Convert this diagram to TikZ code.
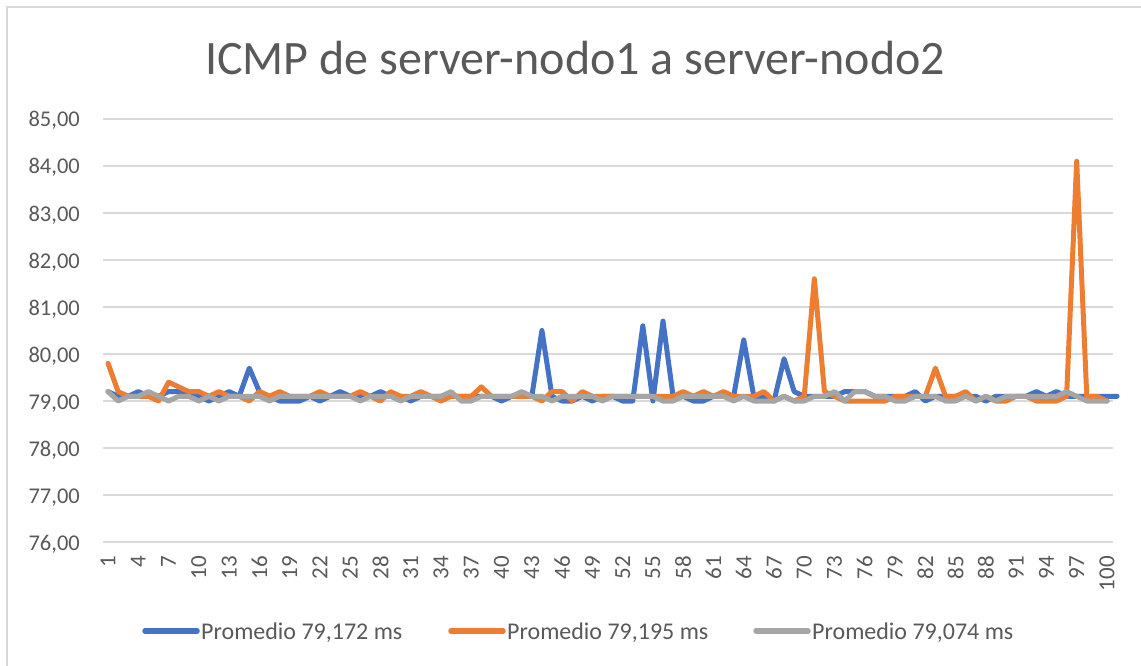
\documentclass[tikz,border=0pt]{standalone}
\usepackage{fontspec}
\setmainfont{Carlito}
\definecolor{txtgray}{HTML}{595959}
\definecolor{gridgray}{HTML}{D9D9D9}
\definecolor{serblue}{HTML}{4472C4}
\definecolor{serorange}{HTML}{ED7D31}
\definecolor{sergray}{HTML}{A5A5A5}

% Series values for points 2..100 (point 1 is given separately)
\def\blueRest{79.1,79.1,79.2,79.1,79.1,79.2,79.2,79.2,79.1,79.0,79.1,79.2,79.1,79.7,79.2,79.1,79.0,79.0,79.0,
79.1,79.0,79.1,79.2,79.1,79.1,79.1,79.2,79.1,79.1,79.0,79.1,79.1,79.1,79.1,79.1,79.1,79.1,79.1,79.0,
79.1,79.1,79.1,80.5,79.1,79.0,79.0,79.1,79.0,79.1,79.1,79.0,79.0,80.6,79.0,80.7,79.1,79.1,79.0,79.0,
79.1,79.1,79.1,80.3,79.1,79.1,79.0,79.9,79.2,79.1,79.1,79.1,79.1,79.2,79.2,79.2,79.1,79.1,79.1,79.1,79.2,
79.0,79.1,79.1,79.1,79.1,79.1,79.0,79.1,79.1,79.1,79.1,79.2,79.1,79.2,79.1,79.1,79.1,79.1,79.1,79.1}
\def\orangeRest{79.2,79.1,79.1,79.1,79.0,79.4,79.3,79.2,79.2,79.1,79.2,79.1,79.1,79.0,79.2,79.1,79.2,79.1,79.1,
79.1,79.2,79.1,79.1,79.1,79.2,79.1,79.0,79.2,79.1,79.1,79.2,79.1,79.0,79.1,79.1,79.1,79.3,79.1,79.1,
79.1,79.1,79.1,79.0,79.2,79.2,79.0,79.2,79.1,79.1,79.1,79.1,79.1,79.1,79.1,79.1,79.1,79.2,79.1,79.2,
79.1,79.2,79.1,79.1,79.1,79.2,79.0,79.1,79.0,79.1,81.6,79.2,79.1,79.0,79.0,79.0,79.0,79.0,79.1,79.1,
79.1,79.1,79.7,79.1,79.1,79.2,79.0,79.1,79.0,79.0,79.1,79.1,79.0,79.0,79.0,79.1,84.1,79.1,79.1,79.0}
\def\grayRest{79.0,79.1,79.1,79.2,79.1,79.0,79.1,79.1,79.0,79.1,79.0,79.1,79.1,79.1,79.1,79.0,79.1,79.1,79.1,
79.1,79.1,79.1,79.1,79.1,79.0,79.1,79.1,79.1,79.0,79.1,79.1,79.1,79.1,79.2,79.0,79.0,79.1,79.1,79.1,
79.1,79.2,79.1,79.1,79.0,79.1,79.1,79.1,79.1,79.0,79.1,79.1,79.1,79.1,79.1,79.0,79.0,79.1,79.1,79.1,
79.1,79.1,79.0,79.1,79.0,79.0,79.0,79.1,79.0,79.0,79.1,79.1,79.2,79.0,79.2,79.2,79.1,79.1,79.0,79.0,
79.1,79.1,79.1,79.0,79.0,79.1,79.0,79.1,79.0,79.1,79.1,79.1,79.1,79.1,79.1,79.2,79.1,79.0,79.0,79.0}

\tikzset{
  axislabel/.style={font=\fontsize{22.5}{27}\selectfont, text=txtgray, inner sep=0pt},
  ticklabel/.style={font=\fontsize{23}{28}\selectfont, text=txtgray, inner sep=0pt},
  legendtext/.style={font=\fontsize{24}{29}\selectfont, text=txtgray, inner sep=0pt, anchor=base west},
  gridline/.style={draw=gridgray, line width=1.5pt},
  series/.style={line width=5pt, line join=round, line cap=round},
  legendline/.style={line width=5.5pt, line cap=round},
}

\begin{document}
\begin{tikzpicture}[x=1pt, y=-1pt]
\useasboundingbox (0,0) rectangle (1141,666);
\fill[white] (0,0) rectangle (1141,666);

% chart frame (runs past the right and bottom edges)
\draw[gridgray, line width=2pt] (7,680) -- (7,7) -- (1160,7);

% title
\node[font=\fontsize{48}{56}\selectfont, text=txtgray, inner sep=0pt, anchor=base] (title) at (575,75) {ICMP de server-nodo1 a server-nodo2};

% horizontal gridlines with value labels
\foreach \v in {76,...,85} {
  \coordinate (gl\v) at (103,{119+(85-\v)*47});
  \coordinate (gr\v) at (1113,{119+(85-\v)*47});
  \draw[gridline] (gl\v) -- (gr\v);
  \node[axislabel, anchor=base east] (ylab\v) at (80,{119+(85-\v)*47+8}) {\v,00};
}

% category labels, every third point
\foreach \i in {1,4,...,100} {
  \node[ticklabel, rotate=90, anchor=east] (xlab\i) at ({97.955+10.09*\i},556) {\i};
}

% data series: x = point number, y = value above 76
\begin{scope}[shift={(97.955pt,-542pt)}, x=10.09pt, y=47pt]
  \draw[series, serblue] (1,79.2-76) \foreach \v [count=\i from 2] in \blueRest { -- (\i,\v-76) };
  \draw[series, serorange] (1,79.8-76) \foreach \v [count=\i from 2] in \orangeRest { -- (\i,\v-76) };
  \draw[series, sergray] (1,79.2-76) \foreach \v [count=\i from 2] in \grayRest { -- (\i,\v-76) };
\end{scope}

% legend
\coordinate (lb1) at (145,631); \coordinate (lb2) at (197,631);
\coordinate (lo1) at (451,631); \coordinate (lo2) at (503,631);
\coordinate (lg1) at (756,631); \coordinate (lg2) at (808,631);
\draw[legendline, serblue] (lb1) -- (lb2);
\draw[legendline, serorange] (lo1) -- (lo2);
\draw[legendline, sergray] (lg1) -- (lg2);
\node[legendtext] (legblue) at (201,639) {Promedio 79,172 ms};
\node[legendtext] (legorange) at (507,639) {Promedio 79,195 ms};
\node[legendtext] (leggray) at (812,639) {Promedio 79,074 ms};
\end{tikzpicture}
\end{document}
